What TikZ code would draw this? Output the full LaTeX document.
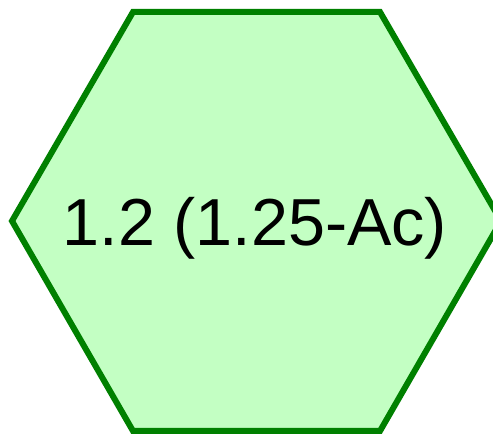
\documentclass[tikz,border=0pt]{standalone}
\usepackage{fontspec}
\setmainfont{Liberation Sans}
\begin{document}
\begin{tikzpicture}[x=1pt,y=1pt]
  \definecolor{hexFill}{RGB}{195,255,195}
  \definecolor{hexLine}{RGB}{0,128,0}
  \useasboundingbox (0,0) rectangle (493,434);
  \filldraw[fill=hexFill,draw=hexLine,line width=6pt,line join=miter]
    (12,213) -- (133,422) -- (380,422) -- (501,213) -- (380,3) -- (133,3) -- cycle;
  \node[font=\fontsize{66.5}{66.5}\selectfont,inner sep=0pt] (lbl) at (255,206) {1.2 (1.25-Ac)};
\end{tikzpicture}
\end{document}
